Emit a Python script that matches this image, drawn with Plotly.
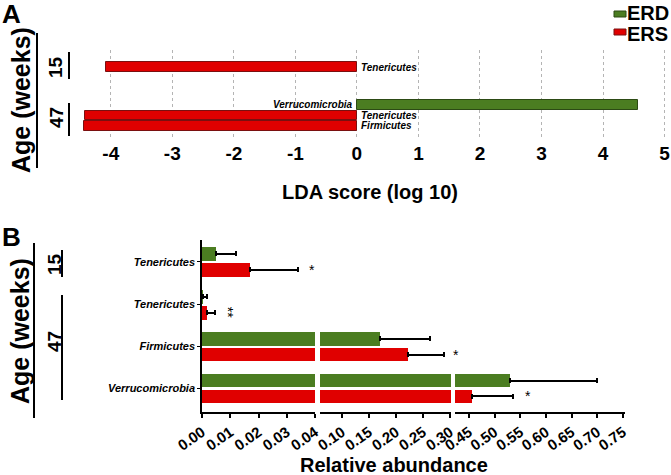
import plotly.graph_objects as go

# ---------------- Data ----------------
# Panel A: LDA scores
lda_taxa = ["Tenericutes", "Verrucomicrobia", "Tenericutes", "Firmicutes"]
lda_group = ["ERS", "ERD", "ERS", "ERS"]
lda_age = ["15", "47", "47", "47"]
lda_scores = [-4.08, 4.57, -4.42, -4.44]
lda_ypos = [5.62, 2.0, 1.0, 0.0]
lda_ticks = [-4, -3, -2, -1, 0, 1, 2, 3, 4, 5]

# Panel B: relative abundance (top to bottom)
ab_taxa = ["Tenericutes", "Tenericutes", "Firmicutes", "Verrucomicrobia"]
ab_ypos = [3.02, 2.0, 1.0, 0.0]
erd_mean = [0.005, 0.0002, 0.171, 0.530]
erd_upper = [0.012, 0.0017, 0.263, 0.700]
ers_mean = [0.017, 0.0017, 0.222, 0.456]
ers_upper = [0.034, 0.0046, 0.289, 0.535]
stars = ["*", "**", "*", "*"]
star_x = [0.0389, 0.0095, 0.4246, 0.565]
star_axis = ["x2", "x2", "x4", "x4"]

seg_ranges = [[0, 0.04], [0.0593, 0.3017], [0.4227, 0.754]]
seg_ticks = [
    [0.00, 0.01, 0.02, 0.03, 0.04],
    [0.10, 0.15, 0.20, 0.25, 0.30],
    [0.45, 0.50, 0.55, 0.60, 0.65, 0.70, 0.75],
]

RED = "#e00000"
GREEN = "#4b7d21"
RED_EDGE = "#7a1010"
GREEN_EDGE = "#2c4a14"
FONT = "Liberation Sans"

W, H = 671, 475


def px(x):
    return x / W


def py(y):
    return 1 - y / H


fig = go.Figure()

# ---------------- Panel A ----------------
colors_a = [RED if g == "ERS" else GREEN for g in lda_group]
edges_a = [RED_EDGE if g == "ERS" else GREEN_EDGE for g in lda_group]
fig.add_trace(go.Bar(
    x=lda_scores, y=lda_ypos, orientation="h", width=0.9,
    marker=dict(color=colors_a, line=dict(color=edges_a, width=1)),
    xaxis="x", yaxis="y", showlegend=False, hoverinfo="x",
))

# ---------------- Panel B ----------------
axes_b = ["x2", "x3", "x4"]
for ax in axes_b:
    fig.add_trace(go.Bar(
        x=erd_mean, y=ab_ypos, orientation="h", width=0.33, offset=0.025,
        marker=dict(color=GREEN, line=dict(width=0)),
        error_x=dict(type="data", symmetric=False,
                     array=[u - m for u, m in zip(erd_upper, erd_mean)],
                     arrayminus=[0] * len(erd_mean),
                     color="black", thickness=2, width=2.5),
        xaxis=ax, yaxis="y2", showlegend=False,
    ))
    fig.add_trace(go.Bar(
        x=ers_mean, y=ab_ypos, orientation="h", width=0.33, offset=-0.355,
        marker=dict(color=RED, line=dict(width=0)),
        error_x=dict(type="data", symmetric=False,
                     array=[u - m for u, m in zip(ers_upper, ers_mean)],
                     arrayminus=[0] * len(ers_mean),
                     color="black", thickness=2, width=2.5),
        xaxis=ax, yaxis="y2", showlegend=False,
    ))

annotations = []
shapes = []

# bar labels in panel A
for t, s, yv in zip(lda_taxa, lda_scores, lda_ypos):
    annotations.append(dict(
        x=0, y=yv, xref="x", yref="y", text=t, showarrow=False,
        xanchor="left" if s < 0 else "right", yanchor="middle",
        xshift=2 if s < 0 else -2,
        font=dict(family=FONT, size=10, color="black", weight="bold", style="italic"),
    ))

# stars in panel B
for st, sx, ax, yv in zip(stars, star_x, star_axis, ab_ypos):
    annotations.append(dict(
        x=sx, y=yv - 0.19, xref=ax, yref="y2", text=st, showarrow=False,
        xanchor="center", yanchor="middle",
        textangle=90 if st == "**" else 0,
        font=dict(family=FONT, size=14, color="black"),
    ))


def paper_text(txt, x, y, size, angle=0, anchor="center"):
    annotations.append(dict(
        x=px(x), y=py(y), xref="paper", yref="paper", text=txt,
        showarrow=False, xanchor=anchor, yanchor="middle", textangle=angle,
        font=dict(family=FONT, size=size, color="black", weight="bold"),
    ))


# Axis titles
paper_text("LDA score (log 10)", 370, 192, 20)
paper_text("Relative abundance", 394, 465, 20)

# Panel letters
paper_text("A", 11, 14, 26)
paper_text("B", 11, 237, 26)

# Age (weeks) labels
paper_text("Age (weeks)", 21, 100, 25, angle=-90)
paper_text("Age (weeks)", 20, 331, 25, angle=-90)
for txt, xx, yy in [("15", 56, 67), ("47", 56, 118), ("15", 54, 264), ("47", 54, 342)]:
    paper_text(txt, xx, yy, 19, angle=-90)

# bracket lines
for x0, y0, y1, w in [(37, 33, 168, 2), (69, 52, 79, 2), (69, 103, 136, 2),
                      (34, 243, 418, 2), (62, 250, 277, 2), (62, 295, 400, 2)]:
    shapes.append(dict(type="line", xref="paper", yref="paper",
                       x0=px(x0), x1=px(x0), y0=py(y0), y1=py(y1),
                       line=dict(color="black", width=w)))

# Legend (top right)
for lab, col, edge, ys, yt in [("ERD", GREEN, GREEN_EDGE, (11, 17), 13),
                               ("ERS", RED, RED_EDGE, (29, 35), 34)]:
    shapes.append(dict(type="rect", xref="paper", yref="paper",
                       x0=px(614), x1=px(626), y0=py(ys[1]), y1=py(ys[0]),
                       fillcolor=col, line=dict(color=edge, width=1)))
    paper_text(lab, 625, yt, 20, anchor="left")

tickfont_a = dict(family=FONT, size=19, color="black", weight="bold")
tickfont_b = dict(family=FONT, size=15, color="black", weight="bold")

layout = dict(
    width=W, height=H, autosize=False,
    margin=dict(l=0, r=0, t=0, b=0, pad=0),
    paper_bgcolor="white", plot_bgcolor="white",
    barmode="overlay", bargap=0,
    annotations=annotations, shapes=shapes,
    xaxis=dict(domain=[px(80), px(667)], range=[-4.5, 5.04], anchor="y",
               automargin=False,
               tickvals=lda_ticks, ticktext=[str(t) for t in lda_ticks],
               showgrid=True, gridcolor="#b4b4b4", griddash="dot", gridwidth=1,
               zeroline=False, showline=False, ticks="", tickfont=tickfont_a,
               ticklabelstandoff=3),
    yaxis=dict(domain=[py(137), py(50)], range=[-1.05, 7.24], anchor="x",
               automargin=False,
               showgrid=False, zeroline=False, showline=False,
               showticklabels=False, ticks=""),
    yaxis2=dict(domain=[py(412), py(240)], range=[-0.56, 3.54], anchor="x2",
                automargin=False,
                tickvals=ab_ypos, ticktext=ab_taxa,
                showgrid=False, zeroline=False, showline=True,
                linecolor="black", linewidth=1.5, ticks="outside", ticklen=3,
                tickwidth=1, tickcolor="black",
                tickfont=dict(family=FONT, size=11, color="black",
                              weight="bold", style="italic")),
)

seg_domains = [[px(202), px(315)], [px(320), px(451)], [px(455), px(625)]]
for i, ax in enumerate(["xaxis2", "xaxis3", "xaxis4"]):
    layout[ax] = dict(
        domain=seg_domains[i], range=seg_ranges[i], anchor="y2",
        automargin=False,
        tickvals=seg_ticks[i], ticktext=[f"{t:.2f}" for t in seg_ticks[i]],
        showgrid=False, zeroline=False, showline=True, linecolor="black",
        linewidth=1.5, ticks="outside", ticklen=4, tickwidth=1.5,
        tickcolor="black", tickangle=-35, tickfont=tickfont_b,
    )

fig.update_layout(**layout)
fig.write_html("out.html", config={"displayModeBar": False},
               post_script="document.body.style.margin='0';")
